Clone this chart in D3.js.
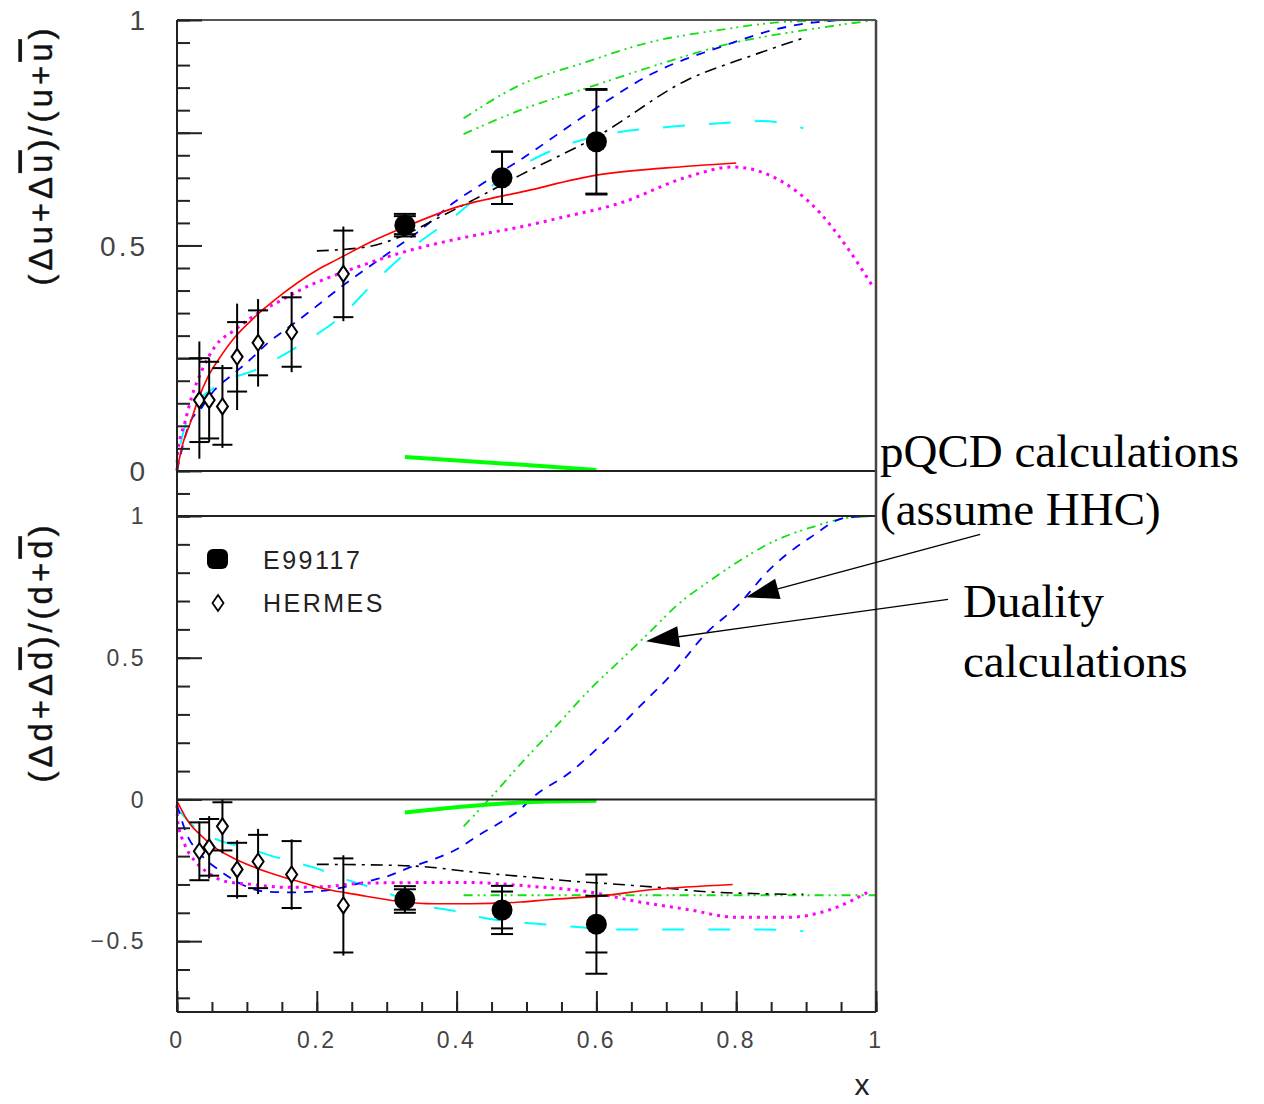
<!DOCTYPE html>
<html>
<head>
<meta charset="utf-8">
<script src="https://cdn.jsdelivr.net/npm/d3@7"></script>
<style>
  html, body { margin: 0; padding: 0; background: #fff; }
  svg { display: block; }
</style>
</head>
<body>
<svg id="chart" width="1264" height="1104"></svg>
<script>
// ---------------- DATA ----------------
const xTickValues = [0, 0.2, 0.4, 0.6, 0.8, 1];
const xTickLabels = ["0", "0.2", "0.4", "0.6", "0.8", "1"];
const yTopTickValues = [0, 0.5, 1];
const yTopTickLabels = ["0", "0.5", "1"];
const yBotTickValues = [-0.5, 0, 0.5, 1];
const yBotTickLabels = ["\u22120.5", "0", "0.5", "1"];

// E99117 (filled circles)
const e99117X = [0.326, 0.465, 0.6];
const e99117UpY = [0.545, 0.65, 0.73];
const e99117UpStat = [0.02, 0.058, 0.115];
const e99117UpTot = [0.025, 0.058, 0.117];
const e99117DownY = [-0.353, -0.39, -0.44];
const e99117DownStat = [0.036, 0.065, 0.1];
const e99117DownTot = [0.047, 0.085, 0.175];

// HERMES (open diamonds)
const hermesX = [0.032, 0.046, 0.065, 0.086, 0.116, 0.164, 0.238];
const hermesUpY = [0.157, 0.157, 0.143, 0.253, 0.284, 0.308, 0.437];
const hermesUpStat = [0.093, 0.085, 0.085, 0.077, 0.072, 0.077, 0.096];
const hermesUpTot = [0.13, 0.093, 0.092, 0.118, 0.097, 0.089, 0.105];
const hermesDownY = [-0.183, -0.169, -0.095, -0.247, -0.219, -0.265, -0.374];
const hermesDownStat = [0.102, 0.1, 0.085, 0.094, 0.094, 0.118, 0.166];
const hermesDownTot = [0.105, 0.11, 0.095, 0.103, 0.115, 0.124, 0.177];

// Curves, upper panel (x, Δq/q)
const redUp = [[0,0],[0.007,0.053],[0.019,0.106],[0.03,0.157],[0.044,0.208],[0.059,0.246],[0.083,0.297],[0.107,0.335],[0.143,0.383],[0.2,0.445],[0.228,0.468],[0.28,0.51],[0.326,0.541],[0.4,0.585],[0.5,0.621],[0.6,0.656],[0.7,0.672],[0.8,0.683]];
const magentaUp = [[0,0],[0.001,0.042],[0.011,0.106],[0.021,0.164],[0.036,0.224],[0.054,0.275],[0.083,0.313],[0.116,0.35],[0.15,0.379],[0.176,0.401],[0.247,0.446],[0.319,0.483],[0.415,0.519],[0.491,0.541],[0.55,0.562],[0.634,0.594],[0.73,0.652],[0.795,0.674],[0.853,0.652],[0.92,0.572],[0.958,0.497],[0.995,0.41]];
const blueUp = [[0,0],[0.016,0.098],[0.036,0.142],[0.054,0.18],[0.079,0.213],[0.107,0.25],[0.13,0.284],[0.155,0.313],[0.187,0.35],[0.233,0.406],[0.295,0.475],[0.348,0.534],[0.395,0.594],[0.44,0.64],[0.491,0.69],[0.595,0.8],[0.681,0.882],[0.777,0.94],[0.873,0.985],[0.967,1.0],[1.0,1.0]];
const cyanUp = [[0.005,0.06],[0.016,0.12],[0.054,0.186],[0.112,0.224],[0.187,0.29],[0.229,0.335],[0.286,0.424],[0.338,0.497],[0.391,0.557],[0.44,0.62],[0.491,0.675],[0.548,0.718],[0.624,0.749],[0.705,0.763],[0.777,0.771],[0.838,0.776],[0.896,0.76]];
const blackUp = [[0.2,0.488],[0.272,0.497],[0.319,0.519],[0.376,0.563],[0.424,0.601],[0.491,0.656],[0.6,0.741],[0.73,0.867],[0.824,0.922],[0.896,0.96]];
const greenUpA = [[0.41,0.782],[0.491,0.856],[0.586,0.907],[0.672,0.949],[0.777,0.978],[0.873,0.996],[1.0,1.0]];
const greenUpB = [[0.41,0.747],[0.491,0.8],[0.586,0.849],[0.672,0.893],[0.795,0.949],[0.9,0.978],[1.0,1.0]];
const greenThickUp = [[0.326,0.031],[0.5,0.013],[0.6,0.002]];

// Curves, lower panel
const redDown = [[0,-0.005],[0.016,-0.078],[0.036,-0.131],[0.054,-0.169],[0.079,-0.205],[0.107,-0.236],[0.14,-0.265],[0.179,-0.293],[0.216,-0.318],[0.255,-0.335],[0.319,-0.36],[0.366,-0.368],[0.42,-0.368],[0.491,-0.362],[0.534,-0.353],[0.6,-0.342],[0.681,-0.318],[0.795,-0.3]];
const magentaDown = [[0,-0.02],[0.001,-0.078],[0.011,-0.159],[0.026,-0.219],[0.044,-0.258],[0.069,-0.289],[0.107,-0.3],[0.155,-0.31],[0.207,-0.308],[0.272,-0.295],[0.415,-0.293],[0.509,-0.307],[0.586,-0.325],[0.658,-0.36],[0.73,-0.388],[0.801,-0.416],[0.873,-0.416],[0.939,-0.385],[0.99,-0.325]];
const blueDown = [[0,-0.02],[0.016,-0.134],[0.03,-0.183],[0.044,-0.219],[0.059,-0.247],[0.069,-0.265],[0.093,-0.3],[0.126,-0.325],[0.164,-0.328],[0.197,-0.325],[0.238,-0.31],[0.272,-0.289],[0.3,-0.272],[0.333,-0.24],[0.366,-0.212],[0.4,-0.176],[0.429,-0.13],[0.46,-0.085],[0.491,-0.035],[0.509,0.007],[0.562,0.095],[0.61,0.2],[0.662,0.328],[0.71,0.448],[0.758,0.589],[0.801,0.681],[0.848,0.812],[0.906,0.924],[0.958,0.995],[1.0,1.0]];
const cyanDown = [[0.003,-0.04],[0.026,-0.1],[0.064,-0.148],[0.097,-0.169],[0.136,-0.2],[0.164,-0.219],[0.202,-0.245],[0.23,-0.272],[0.295,-0.325],[0.343,-0.37],[0.4,-0.395],[0.434,-0.416],[0.491,-0.434],[0.548,-0.445],[0.634,-0.459],[0.705,-0.459],[0.834,-0.459],[0.896,-0.465]];
const blackDown = [[0.2,-0.229],[0.319,-0.233],[0.366,-0.24],[0.415,-0.254],[0.462,-0.265],[0.509,-0.275],[0.558,-0.287],[0.634,-0.3],[0.705,-0.314],[0.753,-0.325],[0.824,-0.332],[0.896,-0.335]];
const greenDownRise = [[0.41,-0.095],[0.45,0.01],[0.491,0.124],[0.538,0.247],[0.595,0.399],[0.634,0.49],[0.672,0.58],[0.72,0.695],[0.758,0.764],[0.801,0.836],[0.853,0.91],[0.91,0.962],[0.958,0.993],[1.0,1.0]];
const greenDownFlat = [[0.41,-0.338],[0.6,-0.338],[0.8,-0.338],[1.0,-0.338]];
const greenThickDown = [[0.326,-0.046],[0.5,-0.01],[0.6,-0.005]];

const legendLabels = ["E99117", "HERMES"];
const annotationTop = ["pQCD calculations", "(assume HHC)"];
const annotationBottom = ["Duality", "calculations"];

// ---------------- LAYOUT ----------------
const svg = d3.select("#chart");
const XL = 177, XR = 876;
const x = d3.scaleLinear().domain([0, 1]).range([XL, XR]);
const yTop = d3.scaleLinear().domain([-0.1, 1]).range([516, 20]);
const yBot = d3.scaleLinear().domain([-0.75, 1]).range([1012, 516]);

const frameCol = "#222";

// ---------------- CURVES ----------------
function drawCurve(data, y, color, width, dash, cap) {
  const line = d3.line().x(d => x(d[0])).y(d => y(d[1])).curve(d3.curveMonotoneX);
  svg.append("path").attr("d", line(data))
    .attr("fill", "none").attr("stroke", color).attr("stroke-width", width)
    .attr("stroke-dasharray", dash || null)
    .attr("stroke-linecap", cap || "butt");
}
const G = "#11e011";
const dashBlue = "9,8", dashCyan = "22,24", dashBlack = "12,6,3,6", dashGreen = "9,5,2,4,2,5", dashMag = "3,5";

// upper
drawCurve(greenUpA, yTop, G, 1.8, dashGreen);
drawCurve(greenUpB, yTop, G, 1.8, dashGreen);
drawCurve(cyanUp, yTop, "#00ffff", 2, dashCyan);
drawCurve(blueUp, yTop, "#0000ff", 1.8, dashBlue);
drawCurve(blackUp, yTop, "#000", 1.6, dashBlack);
drawCurve(magentaUp, yTop, "#ff00ff", 3, dashMag);
drawCurve(redUp, yTop, "#ff0000", 1.6);
drawCurve(greenThickUp, yTop, "#00ff00", 4);
// lower
drawCurve(greenDownRise, yBot, G, 1.8, dashGreen);
drawCurve(greenDownFlat, yBot, G, 1.8, dashGreen);
drawCurve(cyanDown, yBot, "#00ffff", 2, dashCyan);
drawCurve(blueDown, yBot, "#0000ff", 1.8, dashBlue);
drawCurve(blackDown, yBot, "#000", 1.6, dashBlack);
drawCurve(magentaDown, yBot, "#ff00ff", 3, dashMag);
drawCurve(redDown, yBot, "#ff0000", 1.6);
drawCurve(greenThickDown, yBot, "#00ff00", 4);

// ---------------- FRAME ----------------
function hline(yv, col, w) {
  svg.append("line").attr("x1", XL).attr("x2", XR).attr("y1", yv).attr("y2", yv)
    .attr("stroke", col).attr("stroke-width", w);
}
hline(yTop(1), "#555", 2);
hline(yTop(0), frameCol, 2);
hline(yTop(-0.1), frameCol, 2);
hline(yBot(0), frameCol, 2);
hline(yBot(-0.75), frameCol, 2);
svg.append("line").attr("x1", XL).attr("x2", XL).attr("y1", yTop(1)).attr("y2", yBot(-0.75)).attr("stroke", frameCol).attr("stroke-width", 2);
svg.append("line").attr("x1", XR).attr("x2", XR).attr("y1", yTop(1)).attr("y2", yBot(-0.75)).attr("stroke", "#444").attr("stroke-width", 2.5);

// ---------------- TICKS ----------------
function styleAxis(g) {
  g.select(".domain").remove();
  g.selectAll(".tick line").attr("stroke", frameCol).attr("stroke-width", 2);
  g.selectAll("text").remove();
}
const minorTop = d3.range(-2, 21).map(i => i * 0.05);
const majorTop = [0, 0.25, 0.5, 0.75, 1];
svg.append("g").attr("transform", `translate(${XL},0)`)
  .call(d3.axisLeft(yTop).tickValues(minorTop).tickSize(-13).tickFormat("")).call(styleAxis);
svg.append("g").attr("transform", `translate(${XL},0)`)
  .call(d3.axisLeft(yTop).tickValues(majorTop).tickSize(-25).tickFormat("")).call(styleAxis);
const minorBot = d3.range(-7, 11).map(i => i * 0.1);
const majorBot = [-0.5, 0, 0.5, 1];
svg.append("g").attr("transform", `translate(${XL},0)`)
  .call(d3.axisLeft(yBot).tickValues(minorBot).tickSize(-13).tickFormat("")).call(styleAxis);
svg.append("g").attr("transform", `translate(${XL},0)`)
  .call(d3.axisLeft(yBot).tickValues(majorBot).tickSize(-25).tickFormat("")).call(styleAxis);
const minorX = d3.range(0, 21).map(i => i * 0.05);
svg.append("g").attr("transform", `translate(0,${yBot(-0.75)})`)
  .call(d3.axisBottom(x).tickValues(minorX).tickSize(-10).tickFormat("")).call(styleAxis);
svg.append("g").attr("transform", `translate(0,${yBot(-0.75)})`)
  .call(d3.axisBottom(x).tickValues(xTickValues).tickSize(-21).tickFormat("")).call(styleAxis);

// ---------------- TICK LABELS ----------------
const labFont = "'Liberation Sans', Arial, Helvetica, sans-serif";
yTopTickValues.forEach((v, i) => {
  svg.append("text").attr("x", 148).attr("y", yTop(v)).attr("dy", "0.36em")
    .attr("text-anchor", "end").attr("font-family", labFont).attr("font-size", 28)
    .attr("letter-spacing", 3).attr("fill", "#444").text(yTopTickLabels[i]);
});
yBotTickValues.forEach((v, i) => {
  svg.append("text").attr("x", 146).attr("y", yBot(v)).attr("dy", "0.36em")
    .attr("text-anchor", "end").attr("font-family", labFont).attr("font-size", 23)
    .attr("letter-spacing", 2.5).attr("fill", "#444").text(yBotTickLabels[i]);
});
xTickValues.forEach((v, i) => {
  svg.append("text").attr("x", x(v)).attr("y", 1048)
    .attr("text-anchor", "middle").attr("font-family", labFont).attr("font-size", 23)
    .attr("letter-spacing", 2.5).attr("fill", "#444").text(xTickLabels[i]);
});
svg.append("text").attr("x", 862).attr("y", 1095).attr("text-anchor", "middle")
  .attr("font-family", labFont).attr("font-size", 30).attr("fill", "#222").text("x");

// ---------------- AXIS TITLES ----------------
function yTitle(cx, cy, q) {
  const t = svg.append("text").attr("transform", `translate(${cx},${cy}) rotate(-90)`)
    .attr("text-anchor", "middle").attr("font-family", labFont).attr("font-size", 33)
    .attr("letter-spacing", 4).attr("fill", "#111").attr("stroke", "#111").attr("stroke-width", 0.4)
    .attr("dy", "0.35em");
  t.append("tspan").text("(\u0394" + q + "+\u0394");
  t.append("tspan").style("text-decoration", "overline").text(q);
  t.append("tspan").text(")/(" + q + "+");
  t.append("tspan").style("text-decoration", "overline").text(q);
  t.append("tspan").text(")");
}
yTitle(40, 155, "u");
yTitle(40, 652, "d");

// ---------------- ERROR BARS & MARKERS ----------------
function errBars(xs, ys, stat, tot, y, capW, statCapsOnly) {
  xs.forEach((xv, i) => {
    const px = x(xv);
    svg.append("line").attr("x1", px).attr("x2", px)
      .attr("y1", y(ys[i] + tot[i])).attr("y2", y(ys[i] - tot[i]))
      .attr("stroke", "#000").attr("stroke-width", 2);
    const caps = statCapsOnly ? [ys[i] + stat[i], ys[i] - stat[i]]
      : [ys[i] + stat[i], ys[i] - stat[i], ys[i] + tot[i], ys[i] - tot[i]];
    caps.forEach(cv => {
      svg.append("line").attr("x1", px - capW).attr("x2", px + capW)
        .attr("y1", y(cv)).attr("y2", y(cv)).attr("stroke", "#000").attr("stroke-width", 2);
    });
  });
}
errBars(hermesX, hermesUpY, hermesUpStat, hermesUpTot, yTop, 10, true);
errBars(hermesX, hermesDownY, hermesDownStat, hermesDownTot, yBot, 10, true);
errBars(e99117X, e99117UpY, e99117UpStat, e99117UpTot, yTop, 11, false);
errBars(e99117X, e99117DownY, e99117DownStat, e99117DownTot, yBot, 11, false);

const diamond = (cx, cy) => `M${cx},${cy - 8}L${cx + 5.5},${cy}L${cx},${cy + 8}L${cx - 5.5},${cy}Z`;
function hermesMarkers(ys, y) {
  hermesX.forEach((xv, i) => {
    svg.append("path").attr("d", diamond(x(xv), y(ys[i])))
      .attr("fill", "#fff").attr("stroke", "#000").attr("stroke-width", 2);
  });
}
hermesMarkers(hermesUpY, yTop);
hermesMarkers(hermesDownY, yBot);
function e99117Markers(ys, y) {
  e99117X.forEach((xv, i) => {
    svg.append("circle").attr("cx", x(xv)).attr("cy", y(ys[i])).attr("r", 10.5).attr("fill", "#000");
  });
}
e99117Markers(e99117UpY, yTop);
e99117Markers(e99117DownY, yBot);

// ---------------- LEGEND ----------------
svg.append("rect").attr("x", 207).attr("y", 549).attr("width", 21).attr("height", 20).attr("rx", 6)
  .attr("fill", "#000");
svg.append("path").attr("d", diamond(218, 603)).attr("fill", "#fff").attr("stroke", "#000").attr("stroke-width", 1.8);
legendLabels.forEach((t, i) => {
  svg.append("text").attr("x", 263).attr("y", 560 + i * 43).attr("dy", "0.36em")
    .attr("font-family", labFont).attr("font-size", 25).attr("letter-spacing", 2.5)
    .attr("fill", "#222").text(t);
});

// ---------------- ANNOTATIONS ----------------
const serif = "'Liberation Serif', 'Times New Roman', serif";
annotationTop.forEach((t, i) => {
  svg.append("text").attr("x", 880).attr("y", 467 + i * 58).attr("font-family", serif)
    .attr("font-size", 47).attr("fill", "#000").text(t);
});
annotationBottom.forEach((t, i) => {
  svg.append("text").attr("x", 963).attr("y", 617 + i * 60).attr("font-family", serif)
    .attr("font-size", 47).attr("fill", "#000").text(t);
});
function arrow(tail, tip) {
  const [tx, ty] = [x(tail[0]), yBot(tail[1])];
  const [hx, hy] = [x(tip[0]), yBot(tip[1])];
  const dx = tx - hx, dy = ty - hy, L = Math.hypot(dx, dy);
  const ux = dx / L, uy = dy / L;
  const hl = 33, hw = 10.5;
  const bx = hx + ux * hl, by = hy + uy * hl;
  svg.append("line").attr("x1", tx).attr("y1", ty).attr("x2", bx).attr("y2", by)
    .attr("stroke", "#000").attr("stroke-width", 1.3);
  svg.append("path")
    .attr("d", `M${hx},${hy}L${bx - uy * hw},${by + ux * hw}L${bx + uy * hw},${by - ux * hw}Z`)
    .attr("fill", "#000");
}
arrow([1.149, 0.935], [0.814, 0.713]);
arrow([1.103, 0.706], [0.671, 0.558]);
</script>
</body>
</html>
